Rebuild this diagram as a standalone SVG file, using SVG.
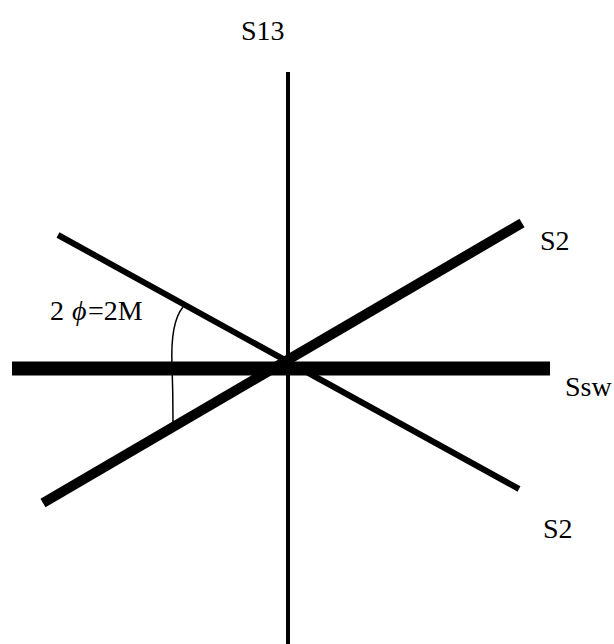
<svg xmlns="http://www.w3.org/2000/svg" width="614" height="644" viewBox="0 0 614 644">
<style>
.lbl{font-family:"Liberation Serif","Times New Roman",serif;font-size:28px;fill:#000}
.ln{stroke:#000;fill:none}
</style>
<rect width="614" height="644" fill="#fff"/>
<g id="connectors">
<line id="axis-s13" class="ln" x1="288" y1="72" x2="288" y2="644" stroke-width="4"/>
<line id="axis-ssw" class="ln" x1="12" y1="368.5" x2="550" y2="368.5" stroke-width="14"/>
<line id="axis-s2-thin" class="ln" x1="58" y1="235" x2="519" y2="489" stroke-width="6"/>
<line id="axis-s2-thick" class="ln" x1="43" y1="503" x2="522" y2="223" stroke-width="10"/>
<path id="angle-arc" class="ln" d="M183,307 C174,318 171,340 172,365 C173,392 173,408 173,422" stroke-width="1.5"/>
</g>
<g id="label-s13"><text class="lbl" x="241" y="40">S13</text></g>
<g id="label-s2-top"><text class="lbl" x="540" y="250">S2</text></g>
<g id="label-ssw"><text class="lbl" x="565" y="396">Ssw</text></g>
<g id="label-s2-bottom"><text class="lbl" x="543" y="538">S2</text></g>
<g id="label-angle"><text class="lbl" x="50" y="320">2<tspan x="72" font-style="italic">ϕ</tspan><tspan x="88">=2M</tspan></text></g>
</svg>
